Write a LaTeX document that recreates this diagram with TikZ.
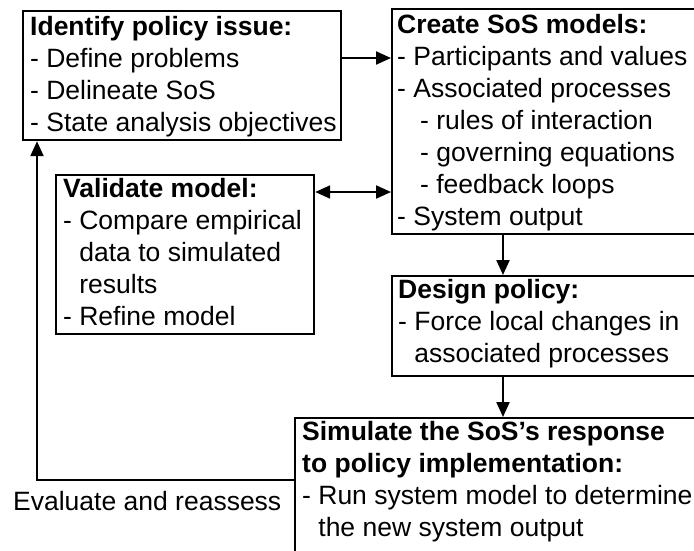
\documentclass[tikz,border=0pt]{standalone}
\usepackage{fontspec}
\setmainfont{Liberation Sans}
\usetikzlibrary{arrows.meta}
% indent that lines a wrapped item up with the text after "- "
\newcommand\hangpad{\hphantom{-\ }}
\newcommand\subpad{\hspace*{23pt}}
\begin{document}
\begin{tikzpicture}[x=1pt,y=-1pt,
  stagebox/.style={draw, line width=2.2pt, rectangle, inner sep=0pt, anchor=north west},
  % placed by the baseline of the last line
  stagetext/.style={anchor=base west, inner sep=0pt, align=left,
    font=\fontsize{26.5pt}{32pt}\selectfont},
  tip/.tip={Triangle[length=15pt,width=13pt]},
  link/.style={line width=2.2pt, -tip},
  twoway/.style={line width=2.2pt, tip-tip}]
\useasboundingbox (0,0) rectangle (694,550);
\clip (0,0) rectangle (694,550);

% stage frames (the right-hand ones run past the page edge)
\node[stagebox, minimum width=318pt, minimum height=129pt] (identify) at (22,10) {};
\node[stagebox, minimum width=330pt, minimum height=225pt] (create) at (391,8) {};
\node[stagebox, minimum width=258pt, minimum height=159pt] (validate) at (55,174) {};
\node[stagebox, minimum width=330pt, minimum height=100pt] (design) at (391,275) {};
\node[stagebox, minimum width=430pt, minimum height=180pt] (simulate) at (294,417) {};

% stage contents
\node[stagetext] (identifyT) at (30,131) {\textbf{Identify policy issue:}\\
- Define problems\\
- Delineate SoS\\
- State analysis objectives};
\node[stagetext] (createT) at (397,225) {\textbf{Create SoS models:}\\
- Participants and values\\
- Associated processes\\
\subpad- rules of interaction\\
\subpad- governing equations\\
\subpad- feedback loops\\
- System output};
\node[stagetext] (validateT) at (63,325) {\textbf{Validate model:}\\
- Compare empirical\\
\hangpad data to simulated\\
\hangpad results\\
- Refine model};
\node[stagetext] (designT) at (398,362) {\textbf{Design policy:}\\
- Force local changes in\\
\hangpad associated processes};
\node[stagetext] (simulateT) at (302,536) {\textbf{Simulate the SoS’s response}\\
\textbf{to policy implementation:}\\
- Run system model to determine\\
\hangpad the new system output};

\node[stagetext] (evaluate) at (13,510) {Evaluate and reassess};

% connector guide points
\coordinate (row1) at (0,58);
\coordinate (row2) at (0,192);
\coordinate (col) at (503,0);
\coordinate (loop) at (37,480);

\draw[link] (identify.east |- row1) -- (create.west |- row1);
\draw[twoway] (validate.east |- row2) -- (create.west |- row2);
\draw[link] (create.south -| col) -- (design.north -| col);
\draw[link] (design.south -| col) -- (simulate.north -| col);
\draw[link] (simulate.west |- loop) -- (loop) -- (loop |- identify.south);
\end{tikzpicture}
\end{document}
